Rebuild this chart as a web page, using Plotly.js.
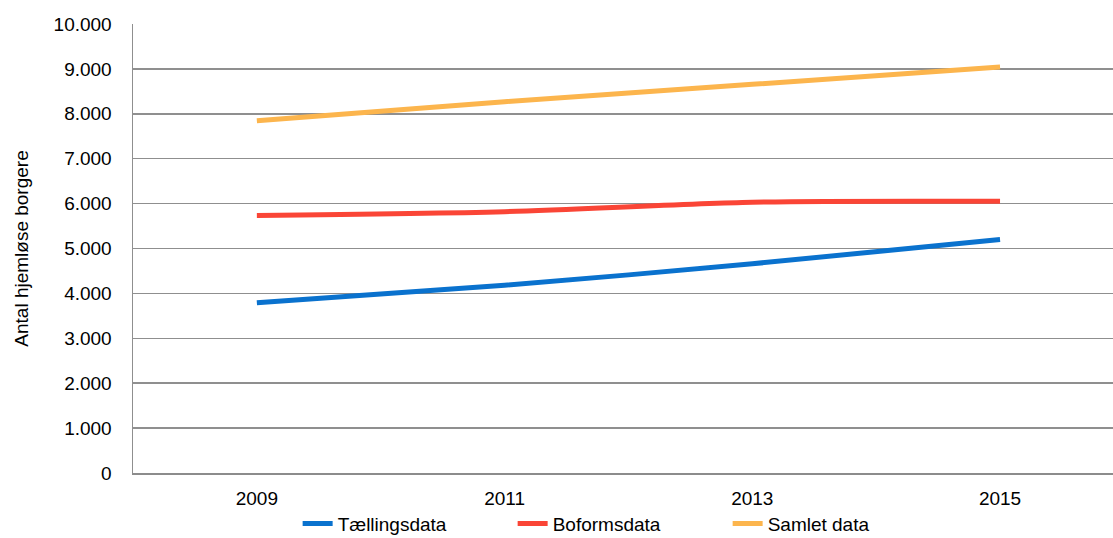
<!DOCTYPE html>
<html>
<head>
<meta charset="utf-8">
<script src="https://cdn.plot.ly/plotly-3.0.1.min.js"></script>
<style>
html,body{margin:0;padding:0;background:#fff;}
#chart{width:1113px;height:538px;}
</style>
</head>
<body>
<div id="chart"></div>
<script>
const years = ['2009', '2011', '2013', '2015'];
const taellingsdata = [3790, 4180, 4660, 5200];
const boformsdata = [5737, 5820, 6030, 6050];
const samletData = [7845, 8270, 8656, 9040];
const seriesNames = ['Tællingsdata', 'Boformsdata', 'Samlet data'];
const seriesColors = ['#0A72CE', '#FA4536', '#FCB54D'];
const yTicks = [0, 1000, 2000, 3000, 4000, 5000, 6000, 7000, 8000, 9000, 10000];

const seriesValues = [taellingsdata, boformsdata, samletData];
const traces = seriesValues.map((vals, i) => ({
  type: 'scatter',
  mode: 'lines',
  x: years,
  y: vals,
  name: seriesNames[i],
  line: {color: seriesColors[i], width: 5, shape: 'spline', smoothing: 0.8},
  hoverinfo: 'x+y+name'
}));

const font = {family: '"Liberation Sans", Arial, Helvetica, sans-serif', size: 19, color: '#000'};

const layout = {
  width: 1113,
  height: 538,
  margin: {l: 133, r: 0, t: 24, b: 65, pad: 0, autoexpand: false},
  paper_bgcolor: '#fff',
  plot_bgcolor: '#fff',
  font: font,
  separators: ',.',
  showlegend: true,
  legend: {
    orientation: 'h',
    x: 0.168, xanchor: 'left', xref: 'paper',
    y: 0.062, yanchor: 'top', yref: 'container',
    entrywidth: 170, entrywidthmode: 'pixels',
    font: font,
    traceorder: 'normal',
    bgcolor: 'rgba(0,0,0,0)'
  },
  xaxis: {
    type: 'category',
    range: [-0.5, 3.456],
    showgrid: false,
    zeroline: false,
    showline: true,
    linecolor: '#8c8c8c',
    linewidth: 2,
    ticks: '',
    ticklabelstandoff: 7,
    tickfont: font,
    automargin: false,
    fixedrange: true
  },
  yaxis: {
    range: [0, 10000],
    tickvals: yTicks,
    separatethousands: true,
    tickformat: ',d',
    showgrid: true,
    gridcolor: '#8f8f8f',
    gridwidth: 1.5,
    zeroline: false,
    showline: true,
    linecolor: '#8f8f8f',
    linewidth: 1.5,
    ticks: '',
    ticklabelstandoff: 16,
    tickfont: font,
    title: {text: 'Antal hjemløse borgere', font: font, standoff: 20},
    automargin: false,
    fixedrange: true
  }
};

Plotly.newPlot('chart', traces, layout, {displayModeBar: false, staticPlot: true});
</script>
</body>
</html>
